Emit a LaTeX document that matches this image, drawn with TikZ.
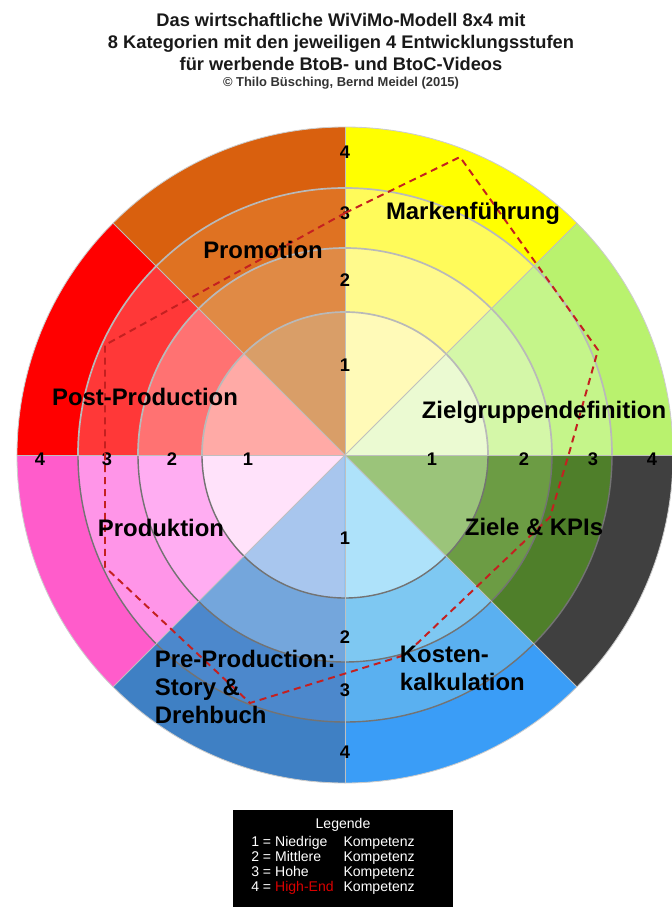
\documentclass[tikz,border=0pt]{standalone}
\usepackage{fontspec}
\setmainfont{Liberation Sans}
\usetikzlibrary{calc}

% colours of the eight sectors, ring 1 (inside) to ring 4 (outside)
\definecolor{Mark1}{HTML}{FFFAB8}\definecolor{Mark2}{HTML}{FFFA8C}
\definecolor{Mark3}{HTML}{FFFB5A}\definecolor{Mark4}{HTML}{FFFF00}
\definecolor{Zgd1}{HTML}{EBFAD2}\definecolor{Zgd2}{HTML}{D4F7A8}
\definecolor{Zgd3}{HTML}{C5F58A}\definecolor{Zgd4}{HTML}{B9F26E}
\definecolor{Ziel1}{HTML}{9BC47A}\definecolor{Ziel2}{HTML}{6C9C44}
\definecolor{Ziel3}{HTML}{4F7F2A}\definecolor{Ziel4}{HTML}{404040}
\definecolor{Kost1}{HTML}{AEE2FA}\definecolor{Kost2}{HTML}{7EC8F2}
\definecolor{Kost3}{HTML}{5AB0F0}\definecolor{Kost4}{HTML}{3A9DF7}
\definecolor{Pre1}{HTML}{A8C6EE}\definecolor{Pre2}{HTML}{74A6DC}
\definecolor{Pre3}{HTML}{4C88CC}\definecolor{Pre4}{HTML}{3F80C4}
\definecolor{Prod1}{HTML}{FFE2FA}\definecolor{Prod2}{HTML}{FFADF2}
\definecolor{Prod3}{HTML}{FF95E8}\definecolor{Prod4}{HTML}{FF5CCB}
\definecolor{Post1}{HTML}{FFAAA6}\definecolor{Post2}{HTML}{FF7272}
\definecolor{Post3}{HTML}{FF3838}\definecolor{Post4}{HTML}{FF0000}
\definecolor{Promo1}{HTML}{D99E68}\definecolor{Promo2}{HTML}{E08A45}
\definecolor{Promo3}{HTML}{DF7222}\definecolor{Promo4}{HTML}{D9600E}
\definecolor{levelred}{HTML}{C42020}

\begin{document}
\begin{tikzpicture}[
        lab/.style={font=\bfseries\fontsize{17}{20}\selectfont, text=black},
        num/.style={font=\bfseries\fontsize{13}{15}\selectfont, text=black},
        ringtop/.style={draw=gray!55, line width=1.2pt},
        ringbot/.style={draw=black!55, line width=1pt},
        level/.style={draw=levelred, line width=1.4pt, dash pattern=on 5pt off 3.5pt}]
    \useasboundingbox (-8.625,-11.3) rectangle (8.175,11.375);

    % sectors
    \foreach \a/\n in {0/Zgd,45/Mark,90/Promo,135/Post,180/Prod,225/Pre,270/Kost,315/Ziel}
        \foreach \r/\rad in {4/8.2,3/6.675,2/5.175,1/3.575}
            \fill[fill=\n\r] (0,0) -- (\a:\rad) arc[start angle=\a, end angle=\a+45, radius=\rad] -- cycle;

    % rings
    \foreach \rad in {3.575,5.175,6.675} {
        \draw[ringtop] (\rad,0) arc[start angle=0, end angle=180, radius=\rad];
        \draw[ringbot] (-\rad,0) arc[start angle=180, end angle=360, radius=\rad];
    }
    \draw[gray!40, line width=.6pt] (0,0) circle[radius=8.2];
    \foreach \a in {45,90,135,180,225,270,315,360}
        \draw[gray!50, line width=.6pt] (0,0) -- (\a:8.2);

    % level numbers on the axes
    \node[num] (t4) at (0,7.575) {4};
    \node[num] (t3) at (0,6.05) {3};
    \node[num] (t2) at (0,4.375) {2};
    \node[num] (t1) at (0,2.25) {1};
    \node[num] (r1) at (2.175,-.1) {1};
    \node[num] (r2) at (4.475,-.1) {2};
    \node[num] (r3) at (6.2,-.1) {3};
    \node[num] (r4) at (7.675,-.1) {4};
    \node[num] (l4) at (-7.625,-.1) {4};
    \node[num] (l3) at (-5.95,-.1) {3};
    \node[num] (l2) at (-4.325,-.1) {2};
    \node[num] (l1) at (-2.425,-.1) {1};
    \node[num] (b1) at (0,-2.075) {1};
    \node[num] (b2) at (0,-4.55) {2};
    \node[num] (b3) at (0,-5.875) {3};
    \node[num] (b4) at (0,-7.425) {4};

    % level reached in each category
    \coordinate (p1) at (0,6.05);
    \coordinate (p2) at (2.875,7.45);
    \coordinate (p3) at (6.325,2.625);
    \coordinate (p4) at (5.625,.125);
    \coordinate (p5) at (5.125,-1.55);
    \coordinate (p6) at (1.5,-5.0);
    \coordinate (p7) at (-2.375,-6.2);
    \coordinate (p8) at (-6.0,-2.8);
    \coordinate (p9) at (-6.0,2.75);
    \draw[level] (p1) -- (p2) -- (p3) -- (p4) -- (p5) -- (p6) -- (p7) -- (p8) -- (p9) -- cycle;

    % categories
    \node[lab] (mark) at (3.2,6.05) {Markenführung};
    \node[lab] (promo) at (-2.05,5.125) {Promotion};
    \node[lab] (post) at (-5.0,1.45) {Post-Production};
    \node[lab] (zgd) at (4.975,1.075) {Zielgruppendefinition};
    \node[lab] (prod) at (-4.6,-1.825) {Produktion};
    \node[lab, anchor=west, align=left] (pre) at (-4.875,-5.8) {Pre-Production:\\Story \&\\Drehbuch};
    \node[lab, anchor=west, align=left] (kost) at (1.25,-5.325) {Kosten-\\kalkulation};
    \node[lab] (ziel) at (4.725,-1.8) {Ziele \& KPIs};

    % title
    \node (title) at (-.1,10.325) [align=center, font=\bfseries\fontsize{13}{15.6}\selectfont, text=black!90]
        {Das wirtschaftliche WiViMo-Modell 8x4 mit\\8 Kategorien mit den jeweiligen 4 Entwicklungsstufen\\für werbende BtoB- und BtoC-Videos};
    \node (copy) at (-.1,9.3) [font=\bfseries\fontsize{9.2}{11}\selectfont, text=black!80]
        {\textcopyright{} Thilo Büsching, Bernd Meidel (2015)};

    % legend
    \fill[black] (-2.8,-8.875) rectangle (2.7,-11.3);
    \node (leg) at (-.05,-9.25) [text=white, font=\fontsize{10}{10.7}\selectfont] {Legende};
    \node (legtab) at (-2.35,-9.52) [anchor=north west, inner sep=0pt, text=white, font=\fontsize{10}{10.7}\selectfont]
        {\begin{tabular}{@{}l@{\hspace{.7em}}l@{}}
            1 = Niedrige & Kompetenz\\
            2 = Mittlere & Kompetenz\\
            3 = Hohe & Kompetenz\\
            4 = \textcolor{red!85!black}{High-End} & Kompetenz
         \end{tabular}};
\end{tikzpicture}
\end{document}
